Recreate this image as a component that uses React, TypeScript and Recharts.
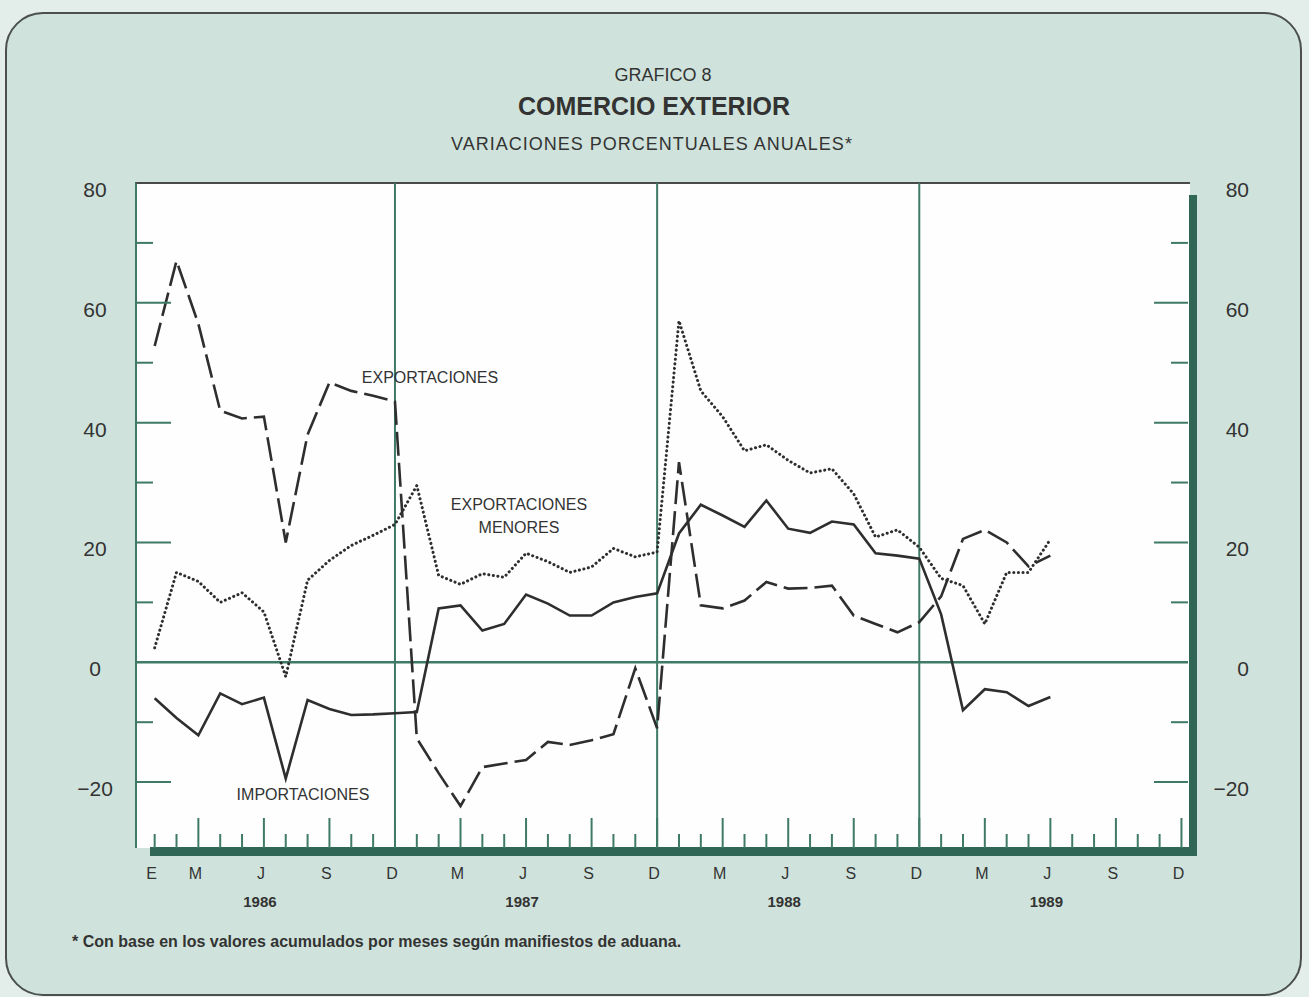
import { LineChart, Line, XAxis, YAxis, ReferenceLine } from "recharts";

// monthly values, Jan 1986 .. Jun 1989 (annual % change)
const exportaciones = [
  52.8, 67, 56.5, 42, 40.7, 41, 20, 38, 46.7, 45.3, 44.5, 43.5,
  -12.7, -18.5, -24, -17.5, -16.9, -16.3, -13.3, -13.8, -13, -12, -1, -11,
  33.4, 9.5, 9, 10.3, 13.4, 12.3, 12.4, 12.8, 7.8, 6.4, 5, 6.7,
  11, 20.6, 22.1, 20, 16, 17.8,
];
const menores = [
  2.4, 15, 13.5, 10, 11.6, 8.4, -2.4, 13.7, 17, 19.5, 21.2, 23,
  29.5, 14.5, 13, 14.8, 14.2, 18.2, 16.8, 15, 15.9, 19, 17.6, 18.4,
  57, 45.3, 41, 35.3, 36.3, 33.7, 31.6, 32.3, 28.1, 20.9, 22.1, 19.2,
  14, 12.8, 6.4, 15, 15, 20.5,
];
const importaciones = [
  -6, -9.3, -12.2, -5.2, -7, -5.9, -19.4, -6.3, -7.8, -8.8, -8.7, -8.5,
  -8.3, 9, 9.5, 5.3, 6.4, 11.3, 9.8, 7.8, 7.8, 10, 10.9, 11.5,
  21.5, 26.3, 24.5, 22.6, 27, 22.3, 21.6, 23.5, 23, 18.2, 17.8, 17.3,
  8, -8, -4.5, -5, -7.3, -5.8,
];

const years = ["1986", "1987", "1988", "1989"];
const quarterLetters: Record<number, string> = { 2: "M", 5: "J", 8: "S", 11: "D" };
const monthTicks = Array.from({ length: 48 }, (_, i) => i);
const yTicks = [-30, -20, -10, 0, 10, 20, 30, 40, 50, 60, 70, 80];
const yLabels = [80, 60, 40, 20, 0, -20];
const decemberLines = [11, 23, 35];

const data = exportaciones.map((v, i) => ({
  m: i,
  exportaciones: v,
  menores: menores[i],
  importaciones: importaciones[i],
}));

const AXIS = "#3f7a67";
const INK = "#2e2e2e";
const FONT = '"Liberation Sans", Arial, sans-serif';

const fmt = (v: number) => (v < 0 ? `\u2212${-v}` : `${v}`);

function LeftTick(props: any) {
  const { x, y, payload } = props;
  const v = payload.value;
  const major = v % 20 === 0;
  const len = major ? 36 : 18;
  return (
    <g>
      {v !== 80 && v !== 0 && v !== -30 && (
        <line x1={x} x2={x + len} y1={y} y2={y} stroke={AXIS} strokeWidth={2} />
      )}
      {yLabels.includes(v) && (
        <text x={x - 40} y={y + 14} textAnchor="middle" fontSize={21} fill="#333" fontFamily={FONT}>
          {fmt(v)}
        </text>
      )}
    </g>
  );
}

function RightTick(props: any) {
  const { x, y, payload } = props;
  const v = payload.value;
  const major = v % 20 === 0;
  const len = major ? 34 : 17;
  return (
    <g>
      {v !== 80 && v !== 0 && v !== -30 && (
        <line x1={x} x2={x - len} y1={y} y2={y} stroke={AXIS} strokeWidth={2} />
      )}
      {yLabels.includes(v) && (
        <text x={x + 61} y={y + 14} textAnchor="end" fontSize={21} fill="#333" fontFamily={FONT}>
          {fmt(v)}
        </text>
      )}
    </g>
  );
}

function BottomTick(props: any) {
  const { x, y, payload } = props;
  const i = payload.value;
  const mo = i % 12;
  const major = mo in quarterLetters;
  const letter = i === 0 ? "E" : quarterLetters[mo];
  return (
    <g>
      <line x1={x} x2={x} y1={y} y2={y - (major ? 30 : 14)} stroke={AXIS} strokeWidth={2} />
      {letter && (
        <text x={x - 3} y={y + 31} textAnchor="middle" fontSize={16} fill="#333" fontFamily={FONT}>
          {letter}
        </text>
      )}
      {mo === 5 && (
        <text x={x - 4} y={y + 59} textAnchor="middle" fontSize={15} fontWeight="bold" fill="#333" fontFamily={FONT}>
          {years[Math.floor(i / 12)]}
        </text>
      )}
    </g>
  );
}

const label = (x: number, y: number, size: number, bold = false, extra: any = {}) => ({
  position: "absolute" as const,
  left: x,
  top: y,
  transform: "translate(-50%, -50%)",
  fontSize: size,
  fontWeight: bold ? "bold" : "normal",
  lineHeight: 1,
  whiteSpace: "nowrap" as const,
  color: "#333",
  ...extra,
});

export default function App() {
  return (
    <div
      style={{
        position: "fixed",
        left: 0,
        top: 0,
        width: 1309,
        height: 997,
        background: "#e3eeea",
        overflow: "hidden",
        fontFamily: FONT,
      }}
    >
      <div
        style={{
          position: "absolute",
          left: 5,
          top: 12,
          width: 1293,
          height: 980,
          border: "2px solid #4b4f4d",
          borderRadius: 38,
          background: "#cfe3dc",
        }}
      />
      <div
        style={{
          position: "absolute",
          left: 135,
          top: 182,
          width: 1055,
          height: 666,
          background: "#fdfefd",
          borderTop: "2px solid #4a4a4a",
          borderLeft: `2px solid ${AXIS}`,
          boxSizing: "border-box",
        }}
      />
      <div style={{ position: "absolute", left: 1189, top: 195, width: 8, height: 661, background: "#2f6655" }} />
      <div style={{ position: "absolute", left: 150, top: 847, width: 1047, height: 9, background: "#2f6655" }} />

      <div style={label(663, 75, 18)}>GRAFICO 8</div>
      <div style={label(654, 106, 25, true)}>COMERCIO EXTERIOR</div>
      <div style={label(652, 144, 18, false, { letterSpacing: 1 })}>VARIACIONES PORCENTUALES ANUALES*</div>

      <LineChart
        width={1309}
        height={997}
        data={data}
        margin={{ top: 183, right: 61, bottom: 89, left: 75 }}
        style={{ position: "absolute", left: 0, top: 0 }}
      >
        <XAxis
          type="number"
          dataKey="m"
          domain={[-0.9, 47.3]}
          ticks={monthTicks}
          interval={0}
          allowDataOverflow
          axisLine={false}
          tickLine={false}
          tickSize={0}
          tickMargin={0}
          height={60}
          tick={<BottomTick />}
        />
        <YAxis
          domain={[-31, 80]}
          ticks={yTicks}
          interval={0}
          allowDataOverflow
          axisLine={false}
          tickLine={false}
          tickSize={0}
          tickMargin={0}
          width={60}
          tick={<LeftTick />}
        />
        <YAxis
          yAxisId="r"
          orientation="right"
          domain={[-31, 80]}
          ticks={yTicks}
          interval={0}
          allowDataOverflow
          axisLine={false}
          tickLine={false}
          tickSize={0}
          tickMargin={0}
          width={60}
          tick={<RightTick />}
        />
        {decemberLines.map((d) => (
          <ReferenceLine key={d} x={d} stroke={AXIS} strokeWidth={2} />
        ))}
        <ReferenceLine y={0} stroke={AXIS} strokeWidth={2.5} />
        <Line
          type="linear"
          dataKey="exportaciones"
          stroke={INK}
          strokeWidth={2.6}
          strokeDasharray="24 7"
          dot={false}
          activeDot={false}
          isAnimationActive={false}
        />
        <Line
          type="linear"
          dataKey="menores"
          stroke={INK}
          strokeWidth={3}
          strokeDasharray="0.1 4.5"
          strokeLinecap="round"
          dot={false}
          activeDot={false}
          isAnimationActive={false}
        />
        <Line
          type="linear"
          dataKey="importaciones"
          stroke={INK}
          strokeWidth={2.6}
          dot={false}
          activeDot={false}
          isAnimationActive={false}
        />
      </LineChart>

      <div style={label(430, 378, 16)}>EXPORTACIONES</div>
      <div style={label(519, 505, 16)}>EXPORTACIONES</div>
      <div style={label(519, 528, 16)}>MENORES</div>
      <div style={label(303, 795, 16)}>IMPORTACIONES</div>

      <div style={{ position: "absolute", left: 72, top: 933, fontSize: 16, fontWeight: "bold", color: "#333", whiteSpace: "nowrap" }}>
        * Con base en los valores acumulados por meses según manifiestos de aduana.
      </div>
    </div>
  );
}
